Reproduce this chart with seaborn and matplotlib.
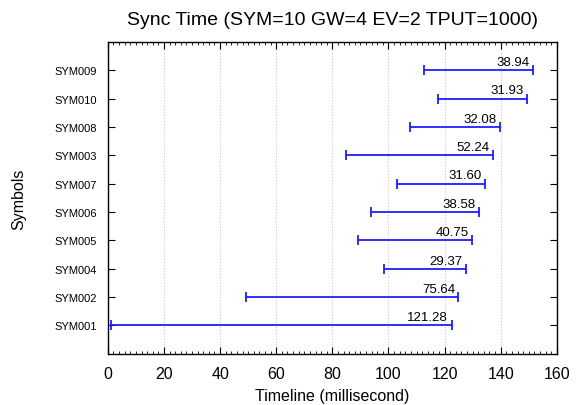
import matplotlib
matplotlib.use('Agg')
import matplotlib.pyplot as plt
import seaborn as sns
import pandas as pd
import numpy as np
from matplotlib.ticker import MultipleLocator

sns.set_style('ticks')
plt.rcParams['font.family'] = ['Liberation Sans', 'DejaVu Sans']
plt.rcParams['text.color'] = 'black'
plt.rcParams['axes.labelcolor'] = 'black'
plt.rcParams['xtick.color'] = 'black'
plt.rcParams['ytick.color'] = 'black'

# Data, bottom row first
symbols = ['SYM001', 'SYM002', 'SYM004', 'SYM005', 'SYM006',
           'SYM007', 'SYM003', 'SYM008', 'SYM010', 'SYM009']
start_ms = [1.2, 49.3, 98.3, 89.2, 93.7, 102.9, 85.0, 107.7, 117.5, 112.7]
durations = [121.28, 75.64, 29.37, 40.75, 38.58, 31.60, 52.24, 32.08, 31.93, 38.94]

end_ms = [s + d for s, d in zip(start_ms, durations)]
pos = list(range(len(symbols)))

df = pd.DataFrame({
    'symbol': symbols * 2,
    'pos': pos * 2,
    'time': start_ms + end_ms,
})

fig = plt.figure(figsize=(5.8, 4.06), dpi=100)
ax = fig.add_axes([0.186, 0.126, 0.774, 0.768])

line_color = '#1f1fff'
sns.lineplot(data=df, x='time', y='pos', units='symbol', estimator=None,
             color=line_color, linewidth=1.3, ax=ax, legend=False)
sns.scatterplot(data=df, x='time', y='pos', marker='|', s=50, linewidth=1.3,
                color=line_color, ax=ax, legend=False)

for p, e, d in zip(pos, end_ms, durations):
    ax.text(e - 1.2, p + 0.08, f'{d:.2f}', ha='right', va='bottom',
            fontsize=9.5, color='black')

ax.set_xlim(0, 160)
ax.set_ylim(-1, len(symbols))
ax.xaxis.set_major_locator(MultipleLocator(20))
ax.xaxis.set_minor_locator(MultipleLocator(2))
ax.set_yticks(pos)
ax.set_yticklabels(symbols, fontsize=8)
ax.tick_params(axis='x', labelsize=11.5, pad=9)
ax.tick_params(axis='y', pad=8)
ax.tick_params(which='both', direction='in', top=True, right=True)
ax.tick_params(which='major', length=5, width=0.8)
ax.tick_params(which='minor', length=2.5, width=0.6)
ax.grid(axis='x', linestyle=':', color='#c8c8c8', linewidth=0.8)
for sp in ax.spines.values():
    sp.set_linewidth(1.0)
    sp.set_color('black')

ax.set_xlabel('Timeline (millisecond)', fontsize=11.5, labelpad=5)
ax.set_ylabel('Symbols', fontsize=11.5, labelpad=20)
ax.set_title('Sync Time (SYM=10 GW=4 EV=2 TPUT=1000)', fontsize=14, pad=13)

fig.savefig('out.png', dpi=100)
